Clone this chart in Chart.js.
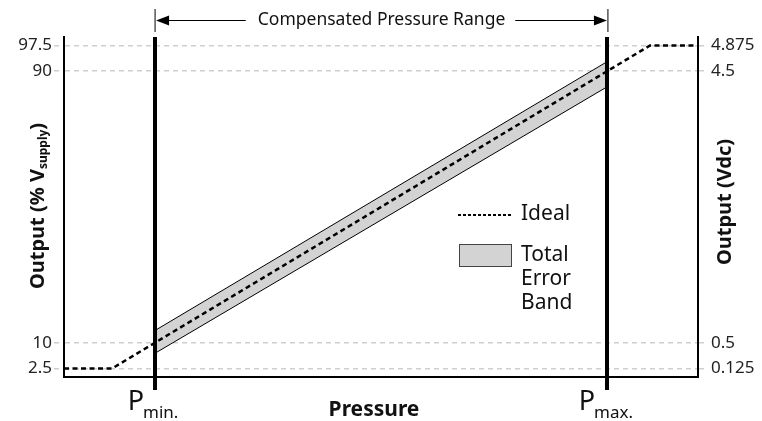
<!doctype html>
<html><head>
<meta charset="utf-8">
<script src="https://cdn.jsdelivr.net/npm/chart.js"></script>
<style type="text/css">
html, body { margin: 0; padding: 0; background: #fff; }
#holder { width: 762px; height: 421px; }
</style>
</head>
<body>
<div id="holder"><canvas id="myChart"></canvas></div>
<script type="text/javascript">
// pressure axis: Pmin = 0, Pmax = 100 (arbitrary units)
var pressureRange = [-20, 120];
var pMarks = [0, 100];
var pNames = ['min.', 'max.'];

// ideal transfer function, % of Vsupply
var idealX = [-20, -9.4, 0, 100, 109.4, 120];
var idealY = [2.5, 2.5, 10, 90, 97.5, 97.5];

// total error band, only between Pmin and Pmax
var bandX = [0, 100];
var bandUpper = [13.6, 92.8];
var bandLower = [6.9, 85.4];

var pctTicks = [2.5, 10, 90, 97.5];
var vdcTicks = [0.125, 0.5, 4.5, 4.875];

var FONT = '"Noto Sans", sans-serif';

function pts(xs, ys) {
    return xs.map(function(x, i) { return { x: x, y: ys[i] }; });
}

var extras = {
    id: 'extras',
    afterDatasetsDraw: function(chart) {
        var ctx = chart.ctx;
        var a = chart.chartArea;
        var xs = chart.scales.x;
        ctx.save();

        // Pmin / Pmax bars
        ctx.strokeStyle = '#000';
        ctx.lineWidth = 4;
        pMarks.forEach(function(p) {
            var px = Math.round(xs.getPixelForValue(p));
            ctx.beginPath();
            ctx.moveTo(px, a.top);
            ctx.lineTo(px, a.bottom + 13);
            ctx.stroke();
        });

        // P labels with subscript
        ctx.fillStyle = '#111';
        ctx.textBaseline = 'alphabetic';
        pMarks.forEach(function(p, i) {
            var px = xs.getPixelForValue(p);
            ctx.font = '27px ' + FONT;
            var wP = ctx.measureText('P').width;
            ctx.font = '17px ' + FONT;
            var wS = ctx.measureText(pNames[i]).width;
            var x0 = px - (wP + wS) / 2 - 1;
            ctx.font = '27px ' + FONT;
            ctx.textAlign = 'left';
            ctx.fillText('P', x0, 410);
            ctx.font = '17px ' + FONT;
            ctx.fillText(pNames[i], x0 + wP - 1, 418);
        });

        // compensated range arrow
        var x1 = xs.getPixelForValue(pMarks[0]) + 0.5;
        var x2 = xs.getPixelForValue(pMarks[1]) + 0.5;
        var ay = 20.5;
        ctx.strokeStyle = '#000';
        ctx.lineWidth = 1;
        ctx.beginPath();
        ctx.moveTo(x1, 9); ctx.lineTo(x1, 32);
        ctx.moveTo(x2, 9); ctx.lineTo(x2, 32);
        ctx.stroke();
        ctx.font = '17.5px ' + FONT;
        ctx.textAlign = 'center';
        ctx.textBaseline = 'middle';
        var label = 'Compensated Pressure Range';
        var mid = (x1 + x2) / 2;
        var tw = ctx.measureText(label).width;
        ctx.fillStyle = '#111';
        ctx.fillText(label, mid, ay);
        ctx.beginPath();
        ctx.moveTo(x1 + 12, ay); ctx.lineTo(mid - tw / 2 - 12, ay);
        ctx.moveTo(mid + tw / 2 + 10, ay); ctx.lineTo(x2 - 12, ay);
        ctx.stroke();
        ctx.fillStyle = '#000';
        ctx.beginPath();
        ctx.moveTo(x1 + 1, ay); ctx.lineTo(x1 + 14, ay - 5); ctx.lineTo(x1 + 14, ay + 5); ctx.closePath();
        ctx.moveTo(x2 - 1, ay); ctx.lineTo(x2 - 14, ay - 5); ctx.lineTo(x2 - 14, ay + 5); ctx.closePath();
        ctx.fill();

        // axis titles
        ctx.fillStyle = '#111';
        ctx.font = 'bold 21px ' + FONT;
        ctx.textAlign = 'center';
        ctx.textBaseline = 'alphabetic';
        ctx.fillText('Pressure', 374, 416);

        var cy = (a.top + a.bottom) / 2;
        // left title, rotated
        ctx.save();
        ctx.translate(44, 206);
        ctx.rotate(-Math.PI / 2);
        var t1 = 'Output (% V';
        var t2 = 'supply';
        var t3 = ')';
        ctx.font = 'bold 20px ' + FONT;
        var w1 = ctx.measureText(t1).width, w3 = ctx.measureText(t3).width;
        ctx.font = 'bold 12px ' + FONT;
        var w2 = ctx.measureText(t2).width;
        var sx = -(w1 + w2 + w3) / 2;
        ctx.textAlign = 'left';
        ctx.font = 'bold 20px ' + FONT;
        ctx.fillText(t1, sx, 0);
        ctx.font = 'bold 12px ' + FONT;
        ctx.fillText(t2, sx + w1, 3);
        ctx.font = 'bold 20px ' + FONT;
        ctx.fillText(t3, sx + w1 + w2, 0);
        ctx.restore();

        // right title, rotated
        ctx.save();
        ctx.translate(731, 202);
        ctx.rotate(-Math.PI / 2);
        ctx.font = 'bold 20px ' + FONT;
        ctx.textAlign = 'center';
        ctx.fillText('Output (Vdc)', 0, 0);
        ctx.restore();

        // legend
        ctx.strokeStyle = '#000';
        ctx.lineWidth = 2;
        ctx.setLineDash([3, 2]);
        ctx.beginPath();
        ctx.moveTo(458, 215); ctx.lineTo(512, 215);
        ctx.stroke();
        ctx.setLineDash([]);
        ctx.fillStyle = '#d3d3d3';
        ctx.fillRect(459.5, 244.5, 52, 22);
        ctx.strokeStyle = '#444';
        ctx.lineWidth = 1;
        ctx.strokeRect(459.5, 244.5, 52, 22);
        ctx.fillStyle = '#111';
        ctx.font = '21px ' + FONT;
        ctx.textAlign = 'left';
        ctx.textBaseline = 'middle';
        ctx.fillText('Ideal', 521, 214);
        ctx.fillText('Total', 521, 255);
        ctx.fillText('Error', 521, 279);
        ctx.fillText('Band', 521, 303);

        ctx.restore();
    }
};

var tickFont = { family: FONT, size: 17 };

var config = {
    type: 'line',
    data: {
        datasets: [
            {
                label: 'Upper',
                data: pts(bandX, bandUpper),
                borderColor: '#000',
                borderWidth: 1,
                pointRadius: 0,
                fill: false,
                order: 2
            },
            {
                label: 'Total Error Band',
                data: pts(bandX, bandLower),
                borderColor: '#000',
                borderWidth: 1,
                backgroundColor: '#d3d3d3',
                pointRadius: 0,
                fill: '-1',
                order: 2
            },
            {
                label: 'Ideal',
                data: pts(idealX, idealY),
                borderColor: '#000',
                borderWidth: 2.5,
                borderDash: [5, 3.5],
                pointRadius: 0,
                fill: false,
                order: 1
            }
        ]
    },
    options: {
        responsive: true,
        maintainAspectRatio: false,
        animation: false,
        events: [],
        layout: { padding: { top: 37, left: 0, right: 0, bottom: 0 } },
        plugins: {
            legend: { display: false },
            tooltip: { enabled: false },
            filler: { drawTime: 'beforeDatasetDraw' }
        },
        scales: {
            x: {
                type: 'linear',
                min: pressureRange[0],
                max: pressureRange[1],
                grid: { display: false },
                ticks: { display: false },
                border: { display: true, color: '#000', width: 2 },
                afterFit: function(s) { s.height = 44; }
            },
            y: {
                position: 'left',
                min: 0,
                max: 100,
                afterBuildTicks: function(s) {
                    s.ticks = pctTicks.map(function(v) { return { value: v }; });
                },
                ticks: {
                    font: tickFont,
                    color: '#222',
                    padding: 2,
                    callback: function(v) { return String(v); }
                },
                grid: {
                    color: '#cfcfcf',
                    lineWidth: 1.5,
                    tickLength: 10,
                    tickColor: '#cfcfcf',
                    tickBorderDash: [5, 4],
                    tickWidth: 1.5
                },
                border: { display: true, color: '#000', width: 2, dash: [5, 4] },
                afterFit: function(s) { s.width = 64; }
            },
            y2: {
                position: 'right',
                min: 0,
                max: 5,
                afterBuildTicks: function(s) {
                    s.ticks = vdcTicks.map(function(v) { return { value: v }; });
                },
                ticks: {
                    font: tickFont,
                    color: '#222',
                    padding: 3,
                    callback: function(v) { return String(v); }
                },
                grid: {
                    drawOnChartArea: false,
                    color: '#cfcfcf',
                    lineWidth: 1.5,
                    tickLength: 10,
                    tickColor: '#cfcfcf',
                    tickBorderDash: [5, 4],
                    tickWidth: 1.5
                },
                border: { display: true, color: '#000', width: 2 },
                afterFit: function(s) { s.width = 64; }
            }
        }
    },
    plugins: [extras]
};

var myChart = new Chart(document.getElementById('myChart'), config);
</script>
</body>
</html>
